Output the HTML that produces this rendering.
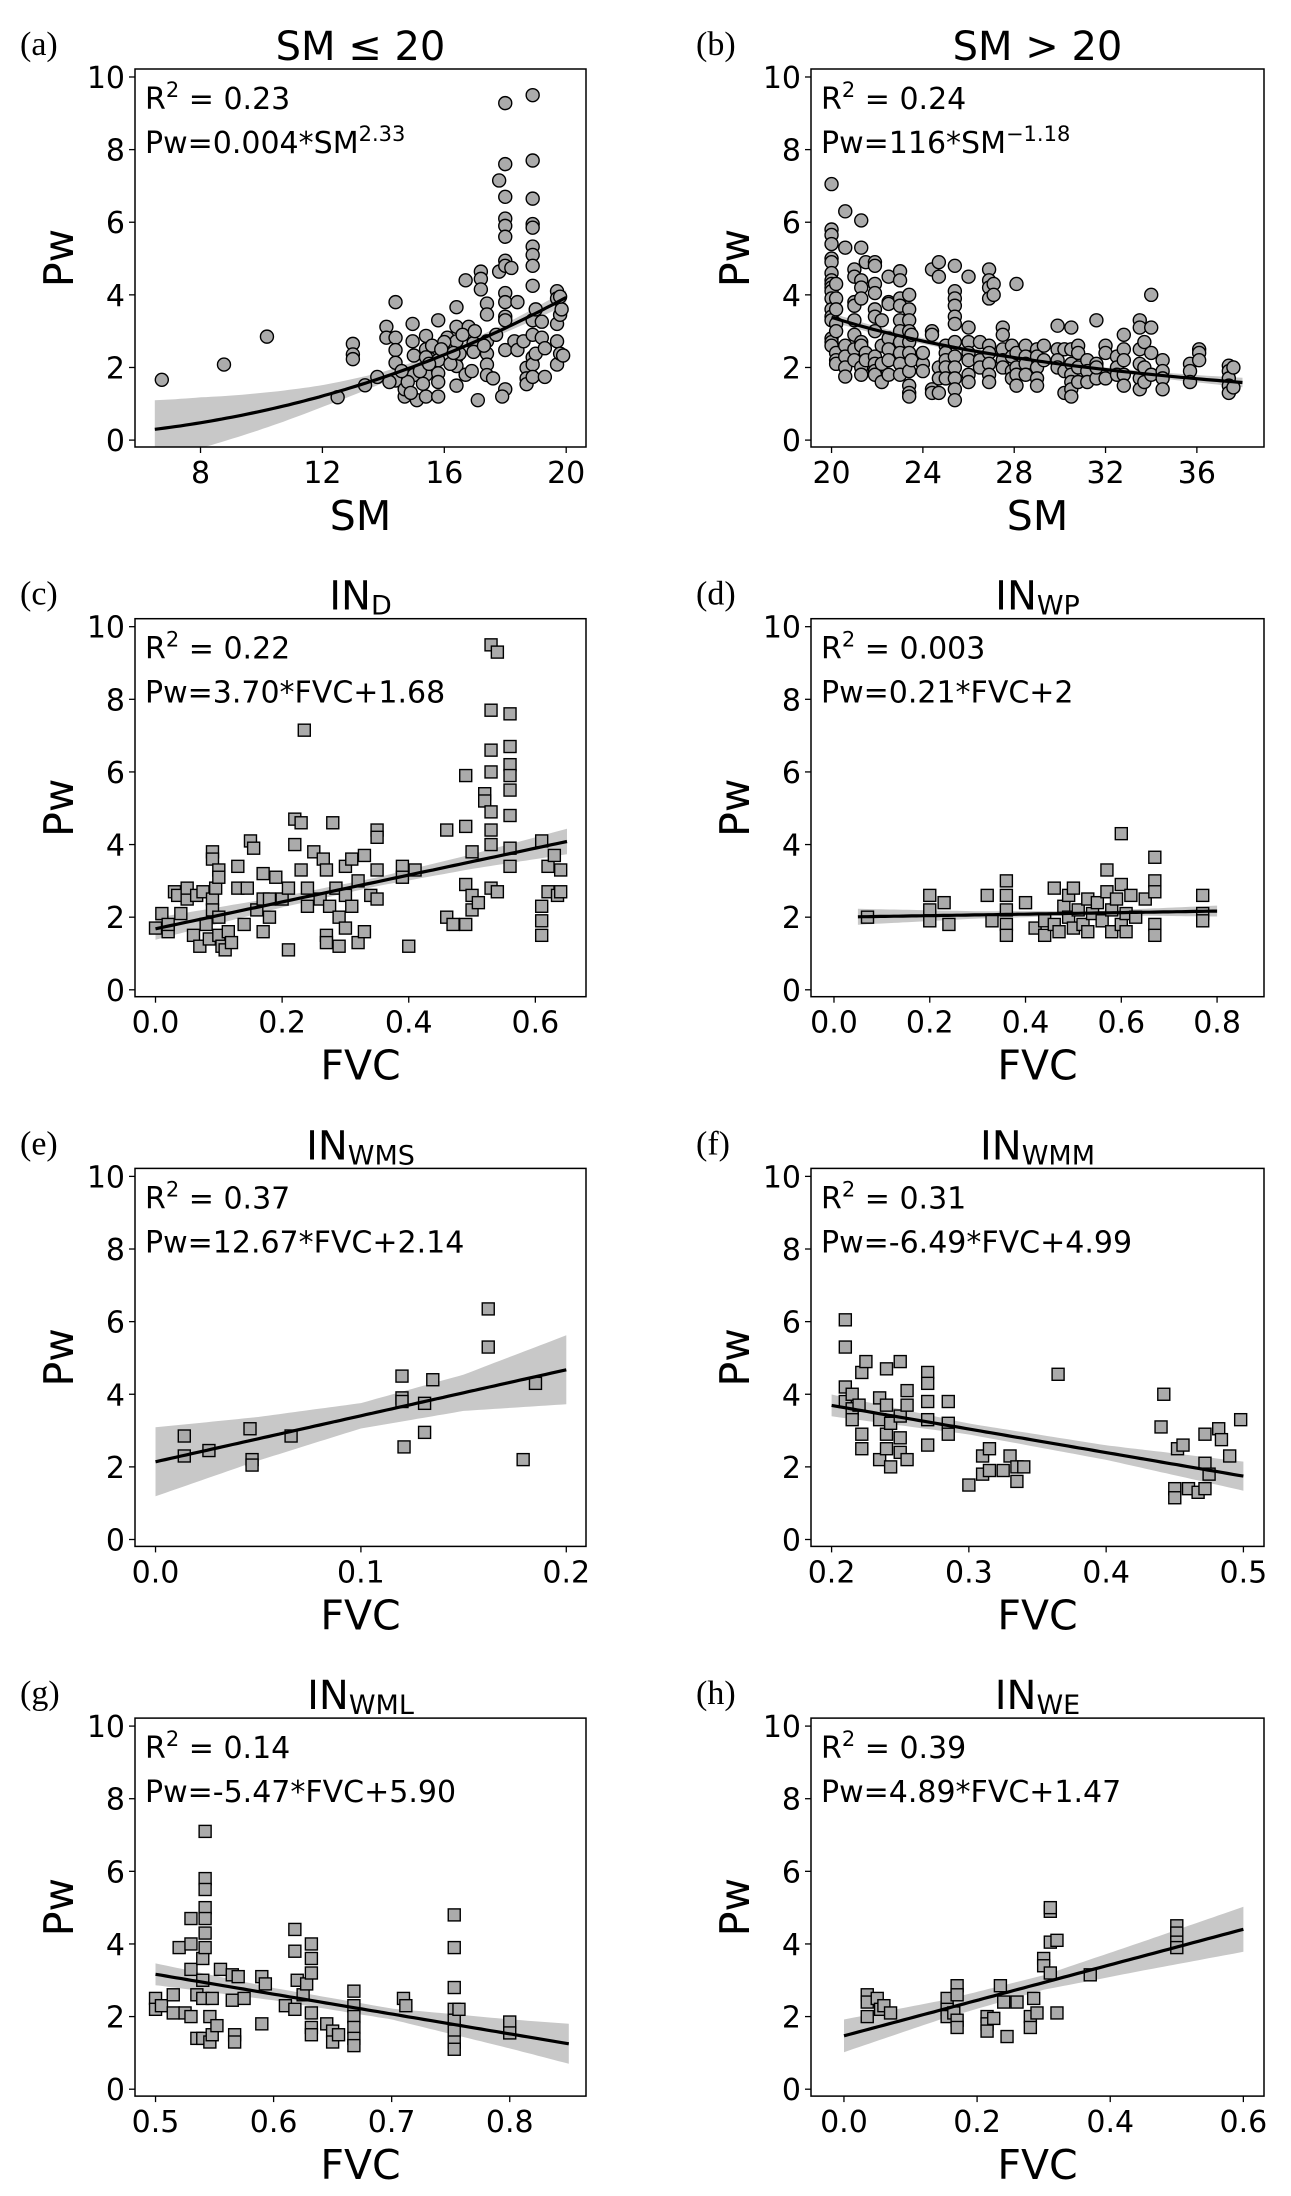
<!DOCTYPE html>
<html><head><meta charset="utf-8">
<style>
html,body{margin:0;padding:0;background:#fff;}
svg{display:block;}
text{font-family:"DejaVu Sans","Liberation Sans",sans-serif;fill:#000;}
.pl{font-family:"Liberation Serif","DejaVu Serif",serif;font-size:34px;}
</style></head>
<body>
<svg id="fig" width="1291" height="2196" viewBox="0 0 1291 2196" xmlns="http://www.w3.org/2000/svg"></svg>
<script>
// ---------- data ----------
const aX=[6.73,8.77,10.18,12.5,13,13,13,13.4,13.8,14.1,14.1,14.4,14.4,14.4,14.4,14.4,14.2,14.7,14.7,14.96,14.96,15,15,15.1,15.4,15.4,15.4,15.4,15.4,15.3,15.8,15.8,15.8,15.8,15.8,15.8,16.1,16.4,16.4,16.4,16.4,16.4,16.4,16.5,16.7,16.7,16.8,16.96,16.96,17.1,17.2,17.2,17.2,17.4,17.4,17.4,17.4,17.4,17.4,17.6,17.8,17.8,18,18,18,18,18,18,18,18,18,18,18,18,18,18,17.9,18.2,18.4,18.3,18.4,18.6,18.7,18.7,18.7,18.9,18.9,18.9,18.9,18.9,18.9,18.9,18.9,18.9,18.9,18.9,18.9,18.9,18.9,19,19,19.2,19.3,19.3,19.2,19.7,19.7,19.7,19.7,19.7,19.8,19.8,19.85,19.9,19.8,14.8,15.2,15.6,16,16.2,16.6,16.9,17.3,17.7,14.9,15.5,16.3,17.0,14.6,15.9];
const aY=[1.66,2.08,2.85,1.18,2.65,2.36,2.23,1.51,1.74,3.12,2.82,3.8,2.82,2.48,2.13,1.64,1.6,1.2,1.4,3.2,2.72,2.33,1.79,1.1,1.2,2.87,2.5,2.28,1.8,1.55,3.3,2.5,2.2,1.84,1.6,1.2,2.82,3.66,3.12,2.72,2.28,2.04,1.5,2.38,4.4,1.8,3.12,2.67,2.43,1.1,4.64,4.44,4.15,3.76,3.46,2.72,2.38,2.08,1.79,1.7,4.64,7.15,9.28,7.6,6.7,6.1,5.9,5.6,4.94,4.8,4.05,3.8,3.4,3.3,2.48,1.4,1.2,4.74,3.8,2.72,2.48,2.72,1.99,1.7,1.54,9.5,7.7,6.65,5.95,5.85,5.33,5.1,4.8,4.25,3.3,2.9,2.28,2.08,1.74,3.6,2.38,2.82,2.53,1.74,3.26,4.1,3.9,3.2,2.72,2.08,2.38,3.45,3.6,2.33,3.95,1.6,1.9,2.6,2.7,2.1,2.9,1.9,2.6,2.9,1.3,2.1,2.4,3.0,1.9,2.5];
const aFit=[0.004,2.30];
const aBandX=[6.5,8,10,12,14,16,18,20];
const aBandH=[0.8,0.7,0.5,0.3,0.15,0.1,0.12,0.2];

const bCols=[20,20.2,20.6,21,21.3,21.5,21.9,22.2,22.5,23,23.4,23.5,24,24.4,24.7,25,25.4,26,26.5,26.9,27.1,27.5,27.9,28.1,28.5,29,29.3,29.9,30.2,30.5,30.8,31.2,31.6,32,32.5,32.8,33.5,33.7,34,34.5,35.7,36.1,37.4,37.6];
const bVals=[[7.05,5.8,5.65,5.4,5.0,4.9,4.6,4.4,4.3,4.2,4.1,3.9,3.6,3.4,3.3,2.8,2.7,2.6],[4.3,3.9,3.6,3.2,3.0,2.4,2.2,2.1],[6.3,5.3,2.6,2.3,2.0,1.75],[4.7,4.5,3.8,3.7,3.3,2.9,2.5,2.2],[6.05,5.3,4.4,4.2,3.9,2.7,2.6,2.0,1.8],[4.9,2.4,2.2],[4.9,4.8,4.3,4.05,3.6,3.4,3.0,2.3,2.1,1.9,1.8],[3.3,2.6,2.1,1.6],[4.5,3.8,3.75,2.8,2.5,2.2,1.8],[4.65,4.4,3.9,3.7,3.3,3.0,2.7,2.4,2.1,1.8],[4.0,3.6,3.3,3.0,2.7,2.4,1.9,1.5,1.3,1.2],[2.9,2.2],[2.1,1.9,2.4],[4.7,3.0,2.9,1.4,1.3],[4.9,4.5,2.0,1.7,1.3],[2.6,2.4,2.2,2.0,1.7],[4.8,4.1,3.9,3.7,3.4,3.2,2.7,2.3,2.0,1.7,1.4,1.1],[4.5,3.1,2.7,2.4,2.2,1.8,1.6],[2.7,2.2,2.0],[4.7,4.4,4.2,3.9,2.6,2.4,2.1,1.8,1.6],[4.3,4.0],[3.1,2.9,2.5,2.2,2.0],[2.6,2.3,1.9,1.7],[4.3,2.4,2.0,1.8,1.5],[2.6,2.3,2.1,1.8],[2.5,2.3,2.0,1.7,1.5],[2.6,2.2],[3.15,2.5,2.2,2.0],[1.3,2.5,1.9],[3.1,2.5,2.1,1.8,1.6,1.4,1.2],[2.6,2.4,2.0,1.6],[2.2,1.9,1.6],[3.3,2.1,1.7,2.0],[2.6,2.4,1.7],[2.3,2.0,1.8],[2.9,2.5,2.2,1.8,1.5],[3.3,3.1,2.5,2.1,1.7,1.4],[2.7,2.0,1.6],[4.0,3.1,2.4,1.8],[2.2,1.9,1.7,1.4],[2.1,1.9,1.6],[2.5,2.4,2.2],[2.05,1.9,1.7,1.5,1.3],[2.0,1.45]];
const bFit=[116,-1.18];
const bBandX=[20,24,28,32,36,38];
const bBandH=[0.12,0.08,0.06,0.06,0.1,0.13];

const cX=[0,0.01,0.02,0.02,0.03,0.035,0.04,0.05,0.05,0.06,0.065,0.07,0.075,0.08,0.085,0.09,0.09,0.09,0.09,0.095,0.1,0.1,0.1,0.1,0.105,0.11,0.115,0.12,0.13,0.13,0.14,0.145,0.15,0.155,0.16,0.17,0.17,0.17,0.18,0.18,0.19,0.2,0.21,0.21,0.22,0.22,0.23,0.23,0.235,0.24,0.24,0.25,0.26,0.265,0.27,0.27,0.27,0.275,0.28,0.285,0.29,0.29,0.3,0.3,0.3,0.31,0.31,0.32,0.32,0.33,0.33,0.34,0.35,0.35,0.35,0.35,0.39,0.39,0.4,0.41,0.46,0.46,0.47,0.49,0.49,0.49,0.49,0.5,0.5,0.5,0.51,0.52,0.52,0.53,0.53,0.53,0.53,0.53,0.53,0.54,0.53,0.54,0.56,0.56,0.56,0.56,0.56,0.56,0.56,0.56,0.53,0.61,0.61,0.61,0.61,0.62,0.62,0.63,0.635,0.64,0.64];
const cY=[1.7,2.1,1.6,1.8,2.7,2.6,2.1,2.5,2.8,1.5,2.6,1.2,2.7,1.8,1.4,3.8,3.6,2.5,2.2,2.8,3.3,3.1,2.0,1.5,1.2,1.1,1.6,1.3,3.4,2.8,1.8,2.8,4.1,3.9,2.2,1.6,2.5,3.2,2.0,2.5,3.1,2.5,2.8,1.1,4.7,4.0,4.6,3.3,7.15,2.8,2.3,3.8,2.5,3.6,3.3,1.5,1.3,2.3,4.6,2.8,2.0,1.2,3.4,2.6,1.7,3.6,2.3,1.3,3.0,3.7,1.6,2.6,4.4,4.2,3.3,2.5,3.4,3.1,1.2,3.3,4.4,2.0,1.8,5.9,4.5,2.9,1.8,3.8,2.6,2.2,2.4,5.4,5.2,4.9,4.4,9.5,6.6,6.0,4.0,9.3,2.8,2.7,7.6,6.7,6.2,5.9,5.5,4.8,3.9,3.4,7.7,2.3,1.9,1.5,4.1,3.4,2.7,3.7,2.6,3.3,2.7];
const cFit=[3.70,1.68];
const cBandX=[0,0.2,0.35,0.5,0.65];
const cBandH=[0.3,0.15,0.12,0.2,0.35];

const dX=[0.07,0.2,0.2,0.2,0.23,0.24,0.32,0.33,0.36,0.36,0.36,0.36,0.36,0.4,0.42,0.44,0.44,0.46,0.46,0.47,0.48,0.49,0.49,0.5,0.5,0.51,0.52,0.53,0.53,0.54,0.55,0.56,0.57,0.57,0.58,0.58,0.59,0.6,0.6,0.6,0.61,0.61,0.62,0.63,0.65,0.67,0.67,0.67,0.67,0.67,0.77,0.77,0.77];
const dY=[2.0,2.6,2.2,1.9,2.4,1.8,2.6,1.9,3.0,2.6,2.2,1.8,1.5,2.4,1.7,1.5,1.9,2.8,1.8,1.6,2.3,2.6,2.0,2.8,1.7,2.2,1.8,2.5,1.6,2.1,2.4,1.9,2.7,3.3,1.6,2.2,2.5,4.3,2.9,1.8,2.1,1.6,2.6,2.0,2.5,3.65,3.0,2.7,1.8,1.5,2.6,2.1,1.9];
const dFit=[0.21,2];
const dBandX=[0.05,0.3,0.55,0.8];
const dBandH=[0.22,0.1,0.06,0.15];

const eX=[0.014,0.014,0.026,0.046,0.047,0.047,0.066,0.12,0.12,0.12,0.121,0.131,0.131,0.135,0.162,0.162,0.179,0.185];
const eY=[2.85,2.3,2.45,3.05,2.2,2.05,2.85,4.5,3.9,3.8,2.55,3.75,2.95,4.4,6.35,5.3,2.2,4.3];
const eFit=[12.67,2.14];
const eBandX=[0,0.05,0.1,0.15,0.2];
const eBandH=[0.95,0.6,0.35,0.5,0.95];

const fX=[0.21,0.21,0.21,0.21,0.215,0.215,0.215,0.22,0.222,0.225,0.222,0.222,0.235,0.235,0.235,0.24,0.24,0.24,0.24,0.243,0.243,0.25,0.25,0.25,0.25,0.255,0.255,0.255,0.27,0.27,0.27,0.27,0.27,0.285,0.285,0.285,0.3,0.31,0.31,0.315,0.315,0.325,0.33,0.335,0.335,0.34,0.365,0.44,0.442,0.45,0.45,0.452,0.456,0.46,0.467,0.472,0.472,0.472,0.475,0.482,0.484,0.49,0.498];
const fY=[6.05,5.3,4.2,3.8,4.0,3.6,3.3,3.7,4.6,4.9,2.9,2.5,3.9,3.3,2.2,4.7,3.7,2.9,2.5,3.2,2.0,4.9,3.4,2.8,2.4,4.1,3.7,2.2,4.6,4.3,3.8,3.3,2.6,3.8,3.2,2.9,1.5,1.8,2.3,2.5,1.9,1.9,2.3,2.0,1.6,2.0,4.55,3.1,4.0,1.4,1.15,2.5,2.6,1.4,1.3,2.9,2.1,1.4,1.8,3.05,2.75,2.3,3.3];
const fFit=[-6.49,4.99];
const fBandX=[0.2,0.3,0.4,0.5];
const fBandH=[0.3,0.15,0.2,0.4];

const gX=[0.5,0.5,0.505,0.515,0.515,0.52,0.525,0.53,0.53,0.53,0.53,0.535,0.535,0.54,0.54,0.54,0.54,0.542,0.542,0.542,0.542,0.542,0.542,0.542,0.546,0.546,0.548,0.548,0.552,0.555,0.565,0.565,0.567,0.567,0.57,0.575,0.59,0.59,0.593,0.61,0.618,0.618,0.618,0.62,0.625,0.628,0.632,0.632,0.632,0.632,0.632,0.632,0.645,0.65,0.65,0.655,0.668,0.668,0.668,0.668,0.668,0.668,0.71,0.712,0.753,0.753,0.753,0.753,0.753,0.753,0.753,0.753,0.757,0.8,0.8];
const gY=[2.5,2.2,2.3,2.6,2.1,3.9,2.1,4.0,3.3,2.0,4.7,2.6,1.4,3.0,2.5,1.4,3.6,7.1,5.8,5.5,5.0,4.7,4.3,3.9,2.0,1.3,2.5,1.5,1.75,3.3,3.15,2.45,1.5,1.3,3.1,2.5,3.1,1.8,2.9,2.3,4.4,3.8,2.2,3.0,2.6,2.9,4.0,3.6,3.2,2.1,1.7,1.5,1.8,1.6,1.3,1.5,2.7,2.3,2.0,1.7,1.4,1.2,2.5,2.3,4.8,3.9,2.8,2.2,1.9,1.6,1.3,1.1,2.2,1.85,1.55];
const gFit=[-5.47,5.90];
const gBandX=[0.5,0.6,0.7,0.8,0.85];
const gBandH=[0.3,0.17,0.15,0.4,0.55];

const hX=[0.035,0.035,0.035,0.05,0.055,0.06,0.07,0.155,0.155,0.155,0.165,0.17,0.17,0.17,0.17,0.215,0.215,0.215,0.225,0.235,0.24,0.245,0.26,0.285,0.28,0.28,0.29,0.3,0.3,0.31,0.31,0.31,0.31,0.32,0.32,0.37,0.5,0.5,0.5,0.5];
const hY=[2.6,2.4,2.0,2.5,2.2,2.3,2.1,2.5,2.2,2.0,2.1,2.85,2.6,1.9,1.7,2.0,1.8,1.6,1.95,2.85,2.4,1.45,2.4,2.5,2.0,1.7,2.1,3.6,3.4,3.2,4.9,5.0,4.05,4.1,2.1,3.15,4.5,4.3,4.05,3.9];
const hFit=[4.89,1.47];
const hBandX=[0,0.15,0.3,0.45,0.6];
const hBandH=[0.45,0.25,0.2,0.4,0.62];

const yTicks=[0,2,4,6,8,10];
const xTicksA=[8,12,16,20], xTicksB=[20,24,28,32,36];
const xTicksC=[0,0.2,0.4,0.6], xTicksD=[0,0.2,0.4,0.6,0.8], xTicksE=[0,0.1,0.2];
const xTicksF=[0.2,0.3,0.4,0.5], xTicksG=[0.5,0.6,0.7,0.8], xTicksH=[0,0.2,0.4,0.6];

// ---------- drawing ----------
const NS="http://www.w3.org/2000/svg";
const svg=document.getElementById('fig');
function mk(tag,attrs,parent){const e=document.createElementNS(NS,tag);for(const k in attrs)e.setAttribute(k,attrs[k]);(parent||svg).appendChild(e);return e;}
const COLS=[[135,586],[811,1264]];
const YD=[-0.19,10.22];
function interp(xs,hs,x){if(x<=xs[0])return hs[0];for(let i=1;i<xs.length;i++){if(x<=xs[i]){const t=(x-xs[i-1])/(xs[i]-xs[i-1]);return hs[i-1]+t*(hs[i]-hs[i-1]);}}return hs[hs.length-1];}

function panel(o){
  const [L,R]=COLS[o.col]; const T=69+549.7*o.row, B=T+378;
  const g=mk('g',{});
  
  
  const sx=v=>L+(v-o.xd[0])/(o.xd[1]-o.xd[0])*(R-L);
  const sy=v=>B-(v-YD[0])/(YD[1]-YD[0])*(B-T);
  const cid='clip-'+o.id;
  const cp=mk('clipPath',{id:cid},g); mk('rect',{x:L,y:T,width:R-L,height:B-T},cp);
  const plot=mk('g',{'clip-path':'url(#'+cid+')'},g);
  // band + fit line
  const N=80; let up=[],dn=[],ln=[];
  for(let i=0;i<=N;i++){const x=o.fx[0]+(o.fx[1]-o.fx[0])*i/N;const y=o.f(x);const h=interp(o.bx,o.bh,x);
    up.push(sx(x).toFixed(1)+','+sy(y+h).toFixed(1));dn.unshift(sx(x).toFixed(1)+','+sy(y-h).toFixed(1));ln.push(sx(x).toFixed(1)+','+sy(y).toFixed(1));}
  const band=mk('polygon',{points:up.concat(dn).join(' '),fill:'#c8c8c8'},plot);
  
  
  // points
  const pts=mk('g',{},plot);
  
  
  for(let i=0;i<o.xs.length;i++){
    const px=sx(o.xs[i]),py=sy(o.ys[i]);let m;
    if(o.shape==='c'){m=mk('circle',{cx:px,cy:py,r:6.5,fill:'#ababab',stroke:'#000','stroke-width':1.4},pts);}
    else{m=mk('rect',{x:px-6,y:py-6,width:12,height:12,fill:'#ababab',stroke:'#000','stroke-width':1.4},pts);}
    
    
  }
  const fl=mk('polyline',{points:ln.join(' '),fill:'none',stroke:'#000','stroke-width':3.2},plot);
  
  
  // frame
  const fr=mk('rect',{x:L,y:T,width:R-L,height:B-T,fill:'none',stroke:'#000','stroke-width':1.5},g);
  
  
  // y ticks
  for(const v of yTicks){const y=sy(v);mk('line',{x1:L-6,x2:L,y1:y,y2:y,stroke:'#000','stroke-width':1.3},g);
    const t=mk('text',{x:L-10,y:y+11,'text-anchor':'end','font-size':30},g);t.textContent=v;
    
    }
  for(const v of o.xt){const x=sx(v);mk('line',{x1:x,x2:x,y1:B,y2:B+6,stroke:'#000','stroke-width':1.3},g);
    const t=mk('text',{x:x,y:B+36,'text-anchor':'middle','font-size':30},g);t.textContent=o.fmt(v);
    
    }
  // axis titles
  const yl=mk('text',{x:0,y:0,'text-anchor':'middle','font-size':41,transform:'translate('+(L-62)+','+((T+B)/2)+') rotate(-90)'},g);
  yl.textContent='Pw';
  
  
  const xl=mk('text',{x:(L+R)/2,y:B+83,'text-anchor':'middle','font-size':41},g);
  xl.textContent=o.xlab;
  
  
  // title
  const ti=mk('text',{x:(L+R)/2,y:T-9,'text-anchor':'middle','font-size':40},g);
  
  
  if(o.sub){ti.appendChild(document.createTextNode(o.title));const s=mk('tspan',{'font-size':27,dy:5},ti);s.textContent=o.sub;}
  else ti.textContent=o.title;
  const pl=mk('text',{x:L-115,y:T-14,'class':'pl'},g);pl.textContent='('+o.id+')';
  
  
  // annotations
  const r2=mk('text',{x:L+10,y:T+40,'font-size':30},g);
  
  
  r2.appendChild(document.createTextNode('R'));const s2=mk('tspan',{'font-size':21,dy:-12},r2);s2.textContent='2';
  const rest=mk('tspan',{dy:12},r2);rest.textContent=' = '+o.r2;
  const eq=mk('text',{x:L+10,y:T+84,'font-size':30},g);
  
  
  eq.appendChild(document.createTextNode(o.eq));
  if(o.eqSup){const s=mk('tspan',{'font-size':21,dy:-12},eq);s.textContent=o.eqSup;}
}
const f1=v=>v.toFixed(1), f0=v=>String(v);
let bX=[],bY=[];bCols.forEach((x,i)=>bVals[i].forEach(y=>{bX.push(x);bY.push(y);}));
panel({id:'a',row:0,col:0,xd:[5.85,20.65],xs:aX,ys:aY,shape:'c',f:x=>aFit[0]*Math.pow(x,aFit[1]),fx:[6.5,20],bx:aBandX,bh:aBandH,xt:xTicksA,fmt:f0,xlab:'SM',title:'SM \u2264 20',r2:'0.23',eq:'Pw=0.004*SM',eqSup:'2.33'});
panel({id:'b',row:0,col:1,xd:[19.1,38.94],xs:bX,ys:bY,shape:'c',f:x=>bFit[0]*Math.pow(x,bFit[1]),fx:[20,38],bx:bBandX,bh:bBandH,xt:xTicksB,fmt:f0,xlab:'SM',title:'SM > 20',r2:'0.24',eq:'Pw=116*SM',eqSup:'\u22121.18'});
panel({id:'c',row:1,col:0,xd:[-0.0324,0.68],xs:cX,ys:cY,shape:'s',f:x=>cFit[0]*x+cFit[1],fx:[0,0.65],bx:cBandX,bh:cBandH,xt:xTicksC,fmt:f1,xlab:'FVC',title:'IN',sub:'D',r2:'0.22',eq:'Pw=3.70*FVC+1.68'});
panel({id:'d',row:1,col:1,xd:[-0.048,0.898],xs:dX,ys:dY,shape:'s',f:x=>dFit[0]*x+dFit[1],fx:[0.05,0.8],bx:dBandX,bh:dBandH,xt:xTicksD,fmt:f1,xlab:'FVC',title:'IN',sub:'WP',r2:'0.003',eq:'Pw=0.21*FVC+2'});
panel({id:'e',row:2,col:0,xd:[-0.01,0.2096],xs:eX,ys:eY,shape:'s',f:x=>eFit[0]*x+eFit[1],fx:[0,0.2],bx:eBandX,bh:eBandH,xt:xTicksE,fmt:f1,xlab:'FVC',title:'IN',sub:'WMS',r2:'0.37',eq:'Pw=12.67*FVC+2.14'});
panel({id:'f',row:2,col:1,xd:[0.185,0.515],xs:fX,ys:fY,shape:'s',f:x=>fFit[0]*x+fFit[1],fx:[0.2,0.5],bx:fBandX,bh:fBandH,xt:xTicksF,fmt:f1,xlab:'FVC',title:'IN',sub:'WMM',r2:'0.31',eq:'Pw=-6.49*FVC+4.99'});
panel({id:'g',row:3,col:0,xd:[0.4826,0.8646],xs:gX,ys:gY,shape:'s',f:x=>gFit[0]*x+gFit[1],fx:[0.5,0.85],bx:gBandX,bh:gBandH,xt:xTicksG,fmt:f1,xlab:'FVC',title:'IN',sub:'WML',r2:'0.14',eq:'Pw=-5.47*FVC+5.90'});
panel({id:'h',row:3,col:1,xd:[-0.0495,0.631],xs:hX,ys:hY,shape:'s',f:x=>hFit[0]*x+hFit[1],fx:[0,0.6],bx:hBandX,bh:hBandH,xt:xTicksH,fmt:f1,xlab:'FVC',title:'IN',sub:'WE',r2:'0.39',eq:'Pw=4.89*FVC+1.47'});
</script>
</body></html>
